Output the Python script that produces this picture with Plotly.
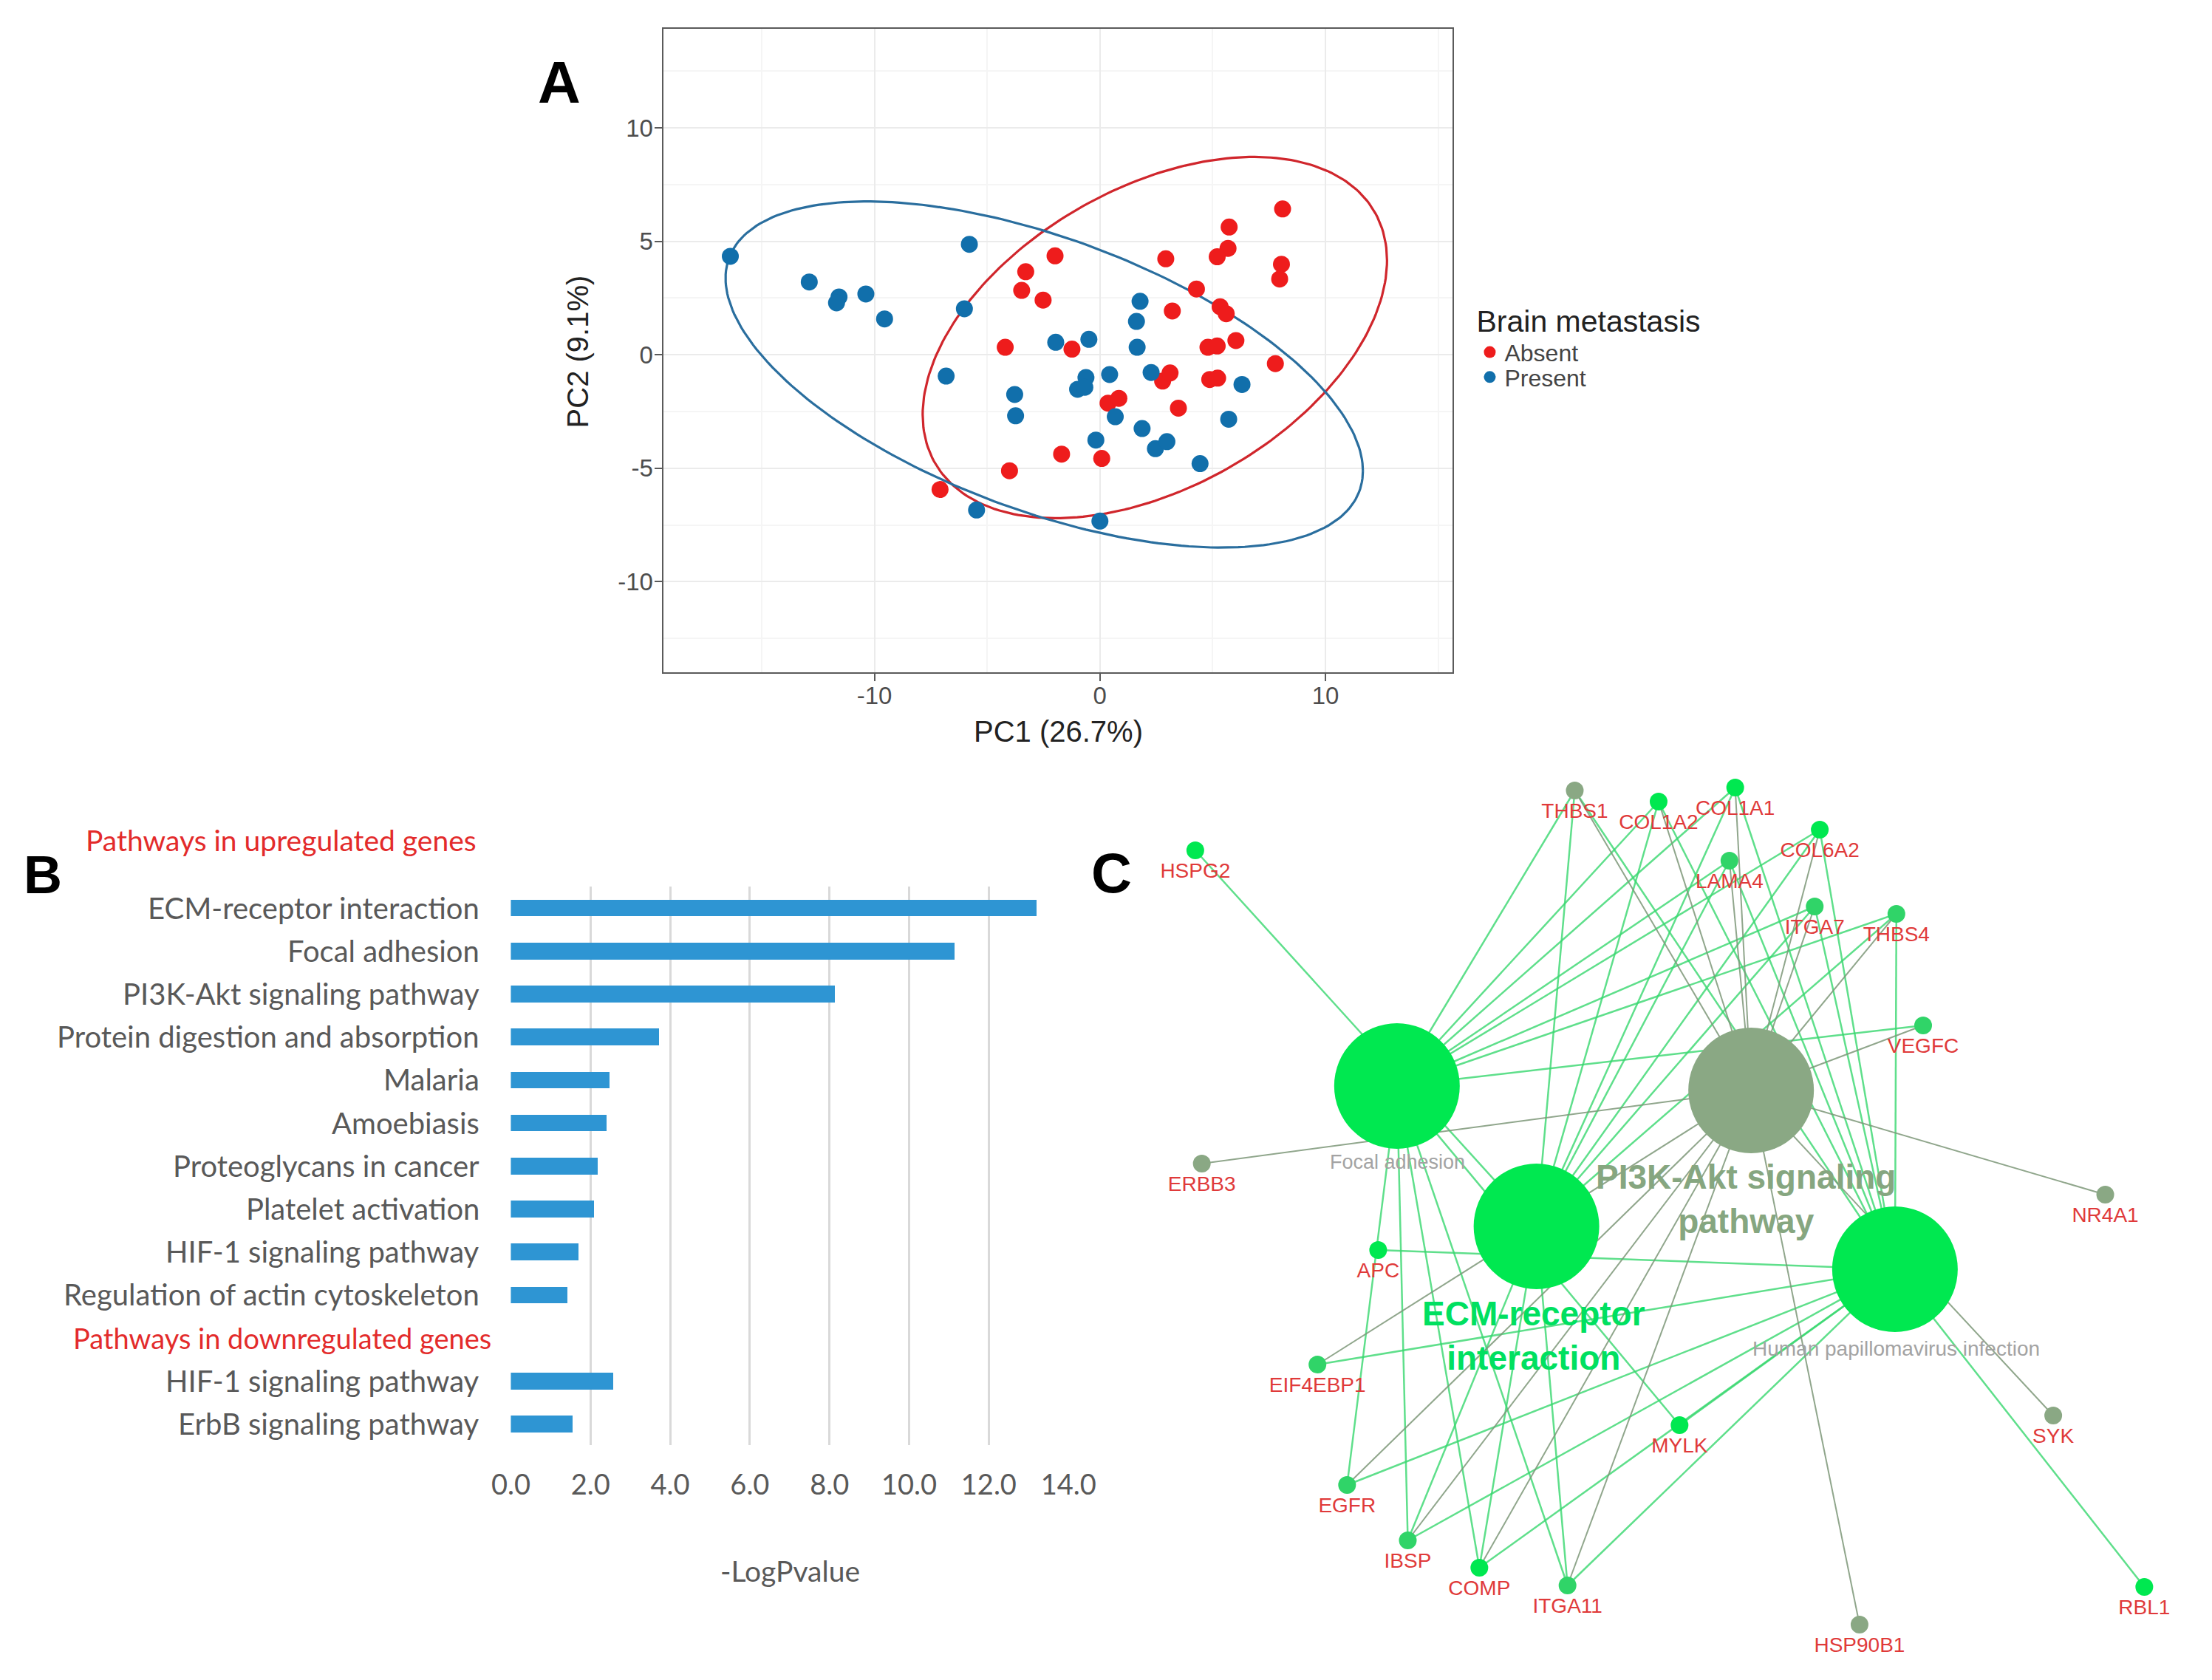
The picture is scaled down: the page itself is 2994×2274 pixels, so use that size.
import numpy as np
import plotly.graph_objects as go

W, H = 2994, 2274


def px(x):
    return x / W


def py(y):
    return 1 - y / H


# ---------------- Panel A data (PCA) ----------------
absent_pc1 = [8.10, 5.73, 5.68, 5.20, 2.92, 8.05, 7.97, 4.28, 5.33, 5.60, 3.21,
              -1.99, -3.29, -3.47, -2.52, -4.20, -1.24, 4.79, 5.20, 6.03, 7.78,
              2.78, 3.11, 4.87, 5.22, 3.48, 0.36, 0.84, -1.70, 0.08, -4.01, -7.09]
absent_pc2 = [6.43, 5.63, 4.69, 4.32, 4.23, 3.99, 3.34, 2.90, 2.12, 1.81, 1.93,
              4.36, 3.66, 2.84, 2.41, 0.33, 0.25, 0.33, 0.39, 0.63, -0.39,
              -1.16, -0.80, -1.09, -1.03, -2.35, -2.13, -1.92, -4.38, -4.57, -5.11, -5.94]
present_pc1 = [-16.39, -12.89, -11.57, -11.68, -10.38, -9.55, -5.79, -6.01, -6.82,
               -3.78, -3.74, -1.96, -0.49, -0.99, -0.62, -0.67, 0.43, -0.18, 0.68,
               1.78, 1.62, 1.65, 2.27, 1.87, 2.46, 2.97, 4.44, 6.30, 5.71, -5.47, 0.0]
present_pc2 = [4.34, 3.21, 2.55, 2.29, 2.68, 1.58, 4.87, 2.03, -0.94,
               -1.75, -2.69, 0.55, 0.68, -1.52, -1.00, -1.43, -0.87, -3.76, -2.73,
               2.36, 1.47, 0.33, -0.78, -3.25, -4.14, -3.83, -4.80, -1.31, -2.84, -6.84, -7.33]

# confidence-ellipse parameters: centre and shape matrix
ellipse_absent_center = [2.435, 0.76]
ellipse_absent_shape = [[106.0, 35.0], [35.0, 63.4]]
ellipse_present_center = [-2.47, -0.87]
ellipse_present_shape = [[199.7, -60.05], [-60.05, 58.2]]

pca_x_ticks = [-10, 0, 10]
pca_y_ticks = [-10, -5, 0, 5, 10]

# ---------------- Panel B data (pathways) ----------------
pathway_labels = ["ECM-receptor interaction", "Focal adhesion", "PI3K-Akt signaling pathway",
                  "Protein digestion and absorption", "Malaria", "Amoebiasis",
                  "Proteoglycans in cancer", "Platelet activation", "HIF-1 signaling pathway",
                  "Regulation of actin cytoskeleton", "HIF-1 signaling pathway",
                  "ErbB signaling pathway"]
pathway_values = [13.2, 11.14, 8.15, 3.72, 2.49, 2.42, 2.19, 2.10, 1.71, 1.43, 2.58, 1.56]
pathway_rows = [0, 1, 2, 3, 4, 5, 6, 7, 8, 9, 11, 12]
header_up = "Pathways in upregulated genes"
header_down = "Pathways in downregulated genes"
header_down_row = 10
bar_x_ticks = [0, 2, 4, 6, 8, 10, 12, 14]
bar_x_ticktext = ["0.0", "2.0", "4.0", "6.0", "8.0", "10.0", "12.0", "14.0"]

# ---------------- Panel C data (network, layout positions) ----------------
hub_names = ["Focal adhesion", "ECM-receptor interaction", "PI3K-Akt signaling pathway",
             "Human papillomavirus infection"]
hub_x = [1897, 2090, 2387, 2586]
hub_y = [1462, 1652, 1468, 1710]
hub_color = ["#00E850", "#00E850", "#8AA884", "#00E850"]

gene_names = ["THBS1", "COL1A2", "COL1A1", "COL6A2", "LAMA4", "ITGA7", "THBS4", "VEGFC",
              "HSPG2", "ERBB3", "NR4A1", "APC", "EIF4EBP1", "EGFR", "IBSP", "COMP",
              "ITGA11", "MYLK", "SYK", "RBL1", "HSP90B1"]
gene_x = [2143, 2259, 2365, 2482, 2357, 2475, 2588, 2625,
          1618, 1627, 2877, 1871, 1787, 1828, 1912, 2011,
          2133, 2288, 2805, 2931, 2537]
gene_y = [1062, 1077, 1058, 1115, 1157, 1219, 1229, 1380,
          1143, 1567, 1609, 1684, 1839, 2002, 2077, 2114,
          2138, 1921, 1908, 2140, 2191]
gene_group = ["grey", "green", "green", "green", "mix", "mix", "mix", "mix",
              "green", "grey", "grey", "green", "mix", "mix", "mix", "green",
              "mix", "green", "grey", "green", "grey"]

core = ["THBS1", "COL1A2", "COL1A1", "COL6A2", "LAMA4", "ITGA7", "THBS4",
        "IBSP", "COMP", "ITGA11"]
hub_members = {
    "Focal adhesion": core + ["VEGFC", "EGFR", "MYLK"],
    "ECM-receptor interaction": core + ["HSPG2"],
    "PI3K-Akt signaling pathway": core + ["VEGFC", "EGFR", "ERBB3", "EIF4EBP1",
                                          "NR4A1", "SYK", "HSP90B1"],
    "Human papillomavirus infection": core + ["EGFR", "APC", "EIF4EBP1", "RBL1", "MYLK"],
}

# ---------------- figure ----------------
fig = go.Figure()

RED = "#EE1C1C"
BLUE = "#116FAB"

for center, shape, col in [(ellipse_absent_center, ellipse_absent_shape, "#D0262C"),
                           (ellipse_present_center, ellipse_present_shape, "#2A6E9E")]:
    L = np.linalg.cholesky(np.array(shape))
    t = np.linspace(0, 2 * np.pi, 241)
    pts = L @ np.vstack([np.cos(t), np.sin(t)])
    fig.add_trace(go.Scatter(x=pts[0] + center[0], y=pts[1] + center[1], mode="lines",
                             line=dict(color=col, width=3.2), showlegend=False,
                             hoverinfo="skip", xaxis="x", yaxis="y"))

fig.add_trace(go.Scatter(x=absent_pc1, y=absent_pc2, mode="markers", name="Absent",
                         marker=dict(color=RED, size=23, line=dict(width=0)),
                         legend="legend", xaxis="x", yaxis="y"))
fig.add_trace(go.Scatter(x=present_pc1, y=present_pc2, mode="markers", name="Present",
                         marker=dict(color=BLUE, size=23, line=dict(width=0)),
                         legend="legend2", xaxis="x", yaxis="y"))

fig.add_trace(go.Bar(x=pathway_values, y=pathway_rows, orientation="h", width=0.39,
                     marker=dict(color="#2E95D3", line=dict(width=0)), showlegend=False,
                     xaxis="x2", yaxis="y2"))

green_ex, green_ey, grey_ex, grey_ey = [], [], [], []
for hname, members in hub_members.items():
    hi = hub_names.index(hname)
    for g in members:
        gi = gene_names.index(g)
        if hname == "PI3K-Akt signaling pathway":
            grey_ex += [hub_x[hi], gene_x[gi], None]
            grey_ey += [hub_y[hi], gene_y[gi], None]
        else:
            green_ex += [hub_x[hi], gene_x[gi], None]
            green_ey += [hub_y[hi], gene_y[gi], None]

fig.add_trace(go.Scatter(x=green_ex, y=green_ey, mode="lines",
                         line=dict(color="rgba(55,215,110,0.8)", width=2.5),
                         showlegend=False, hoverinfo="skip", xaxis="x3", yaxis="y3"))
fig.add_trace(go.Scatter(x=grey_ex, y=grey_ey, mode="lines",
                         line=dict(color="rgba(125,150,120,0.85)", width=2),
                         showlegend=False, hoverinfo="skip", xaxis="x3", yaxis="y3"))

fig.add_trace(go.Scatter(x=hub_x, y=hub_y, mode="markers",
                         marker=dict(color=hub_color, size=170, line=dict(width=0)),
                         showlegend=False, xaxis="x3", yaxis="y3"))

group_color = {"green": "#00E850", "grey": "#8AA884", "mix": "#30D468"}
fig.add_trace(go.Scatter(x=gene_x, y=gene_y, mode="markers+text", text=gene_names,
                         textposition="bottom center",
                         textfont=dict(family="Liberation Sans", size=28, color="#E03A3A"),
                         marker=dict(color=[group_color[g] for g in gene_group], size=24,
                                     line=dict(width=0)),
                         showlegend=False, xaxis="x3", yaxis="y3"))


def note(text, x, y, size, color, family="Liberation Sans", xref="paper", yref="paper",
         xanchor="center", yanchor="middle", **kw):
    d = dict(text=text, x=x, y=y, xref=xref, yref=yref, xanchor=xanchor, yanchor=yanchor,
             showarrow=False, font=dict(family=family, size=size, color=color))
    d.update(kw)
    return d


annotations = [
    note("<b>A</b>", px(738), py(104), 80, "black"),
    note("<b>B</b>", px(24), py(1176), 72, "black"),
    note("<b>C</b>", px(1502), py(1173), 76, "black"),
    note("PC1 (26.7%)", px(1429), py(982), 40, "#222222"),
    note("PC2 (9.1%)", px(764), py(468), 40, "#222222", textangle=-90),
    note(header_up, px(353), py(1129), 39, "#E32B2B", family="Lato"),
    note(header_down, px(355), header_down_row, 38, "#E32B2B", family="Lato", yref="y2"),
    note("-LogPvalue", px(1057), py(2118), 39, "#595959", family="Lato"),
    note("Focal adhesion", 1898, 1565, 27, "#A3A3A3", xref="x3", yref="y3"),
    note("Human papillomavirus infection", 2588, 1817, 28, "#A3A3A3", xref="x3", yref="y3"),
    note("<b>PI3K-Akt signaling<br>pathway</b>", 2380, 1615, 46, "#86A680", xref="x3", yref="y3"),
    note("<b>ECM-receptor<br>interaction</b>", 2086, 1800, 46, "#00E060", xref="x3", yref="y3"),
]
for lab, r in zip(pathway_labels, pathway_rows):
    annotations.append(note(lab, 0, r, 40, "#595959", family="Lato", xref="x2", yref="y2",
                            xanchor="right", xshift=-40))

axis_font = dict(family="Liberation Sans", size=33, color="#4D4D4D")

fig.update_layout(
    width=W, height=H,
    margin=dict(l=0, r=0, t=0, b=0),
    paper_bgcolor="white", plot_bgcolor="rgba(0,0,0,0)",
    showlegend=True,
    legend=dict(x=px(2005), y=py(388), xanchor="left", yanchor="top",
                title=dict(text="Brain metastasis",
                           font=dict(family="Liberation Sans", size=41, color="#222222")),
                font=dict(family="Liberation Sans", size=32, color="#444444"),
                itemsizing="trace", bgcolor="rgba(0,0,0,0)"),
    legend2=dict(x=px(2005), y=py(475), xanchor="left", yanchor="top",
                 font=dict(family="Liberation Sans", size=32, color="#444444"),
                 itemsizing="trace", bgcolor="rgba(0,0,0,0)"),
    xaxis=dict(domain=[px(881.7), px(1973.7)], range=[-19.37, 15.63],
               tickvals=pca_x_ticks, ticktext=[str(v) for v in pca_x_ticks],
               showgrid=True, gridcolor="#EBEBEB", gridwidth=2,
               minor=dict(dtick=5, tick0=0, showgrid=True, gridcolor="#F5F5F5", gridwidth=1.5, ticks=""),
               zeroline=False, showline=True, mirror=True, linecolor="#5A5A5A", linewidth=2,
               ticks="outside", ticklen=10, tickwidth=2, tickcolor="#5A5A5A",
               ticklabelstandoff=-8, tickfont=axis_font, anchor="y"),
    yaxis=dict(domain=[py(901.8), py(31.3)], range=[-13.99, 14.36],
               tickvals=pca_y_ticks, ticktext=[str(v) for v in pca_y_ticks],
               showgrid=True, gridcolor="#EBEBEB", gridwidth=2,
               minor=dict(dtick=2.5, tick0=0, showgrid=True, gridcolor="#F5F5F5", gridwidth=1.5, ticks=""),
               zeroline=False, showline=True, mirror=True, linecolor="#5A5A5A", linewidth=2,
               ticks="outside", ticklen=10, tickwidth=2, tickcolor="#5A5A5A",
               ticklabelstandoff=-5, tickfont=axis_font, anchor="x"),
    xaxis2=dict(domain=[px(671), px(1442.5)], range=[0, 14],
                tickvals=bar_x_ticks, ticktext=bar_x_ticktext,
                showgrid=True, gridcolor="#D9D9D9", gridwidth=3, zeroline=False,
                showline=False, ticks="", ticklabelstandoff=28,
                tickfont=dict(family="Lato", size=38, color="#595959"), anchor="y2"),
    yaxis2=dict(domain=[py(1948.1), py(1191.5)], range=[12.5, -0.5],
                showticklabels=False, showgrid=False, zeroline=False, ticks="", anchor="x2"),
    xaxis3=dict(domain=[px(1480), 1], range=[1480, W], visible=False, anchor="y3"),
    yaxis3=dict(domain=[0, py(1040)], range=[H, 1040], visible=False, anchor="x3"),
    annotations=annotations,
    bargap=0,
)

fig.write_html("out.html")
